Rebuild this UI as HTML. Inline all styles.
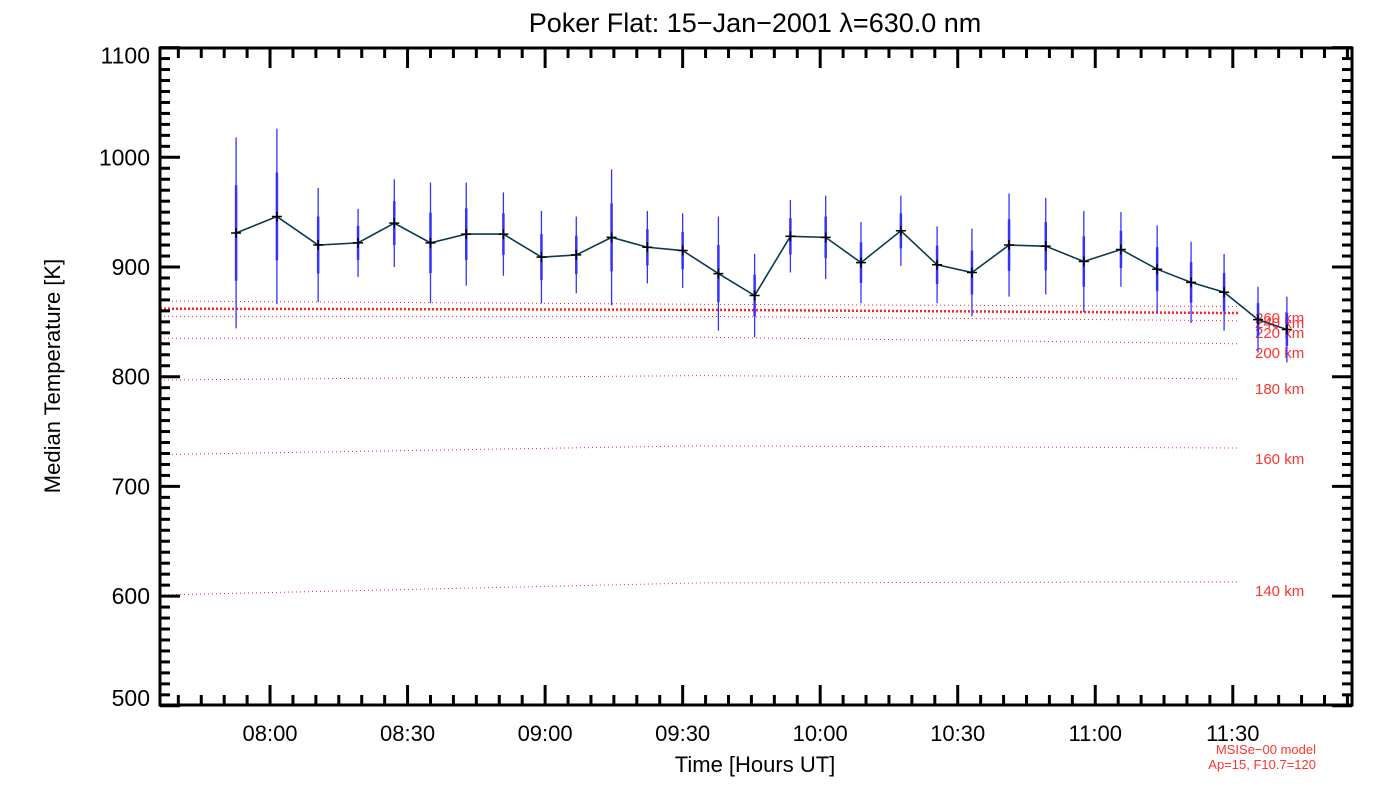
<!DOCTYPE html>
<html><head><meta charset="utf-8"><style>
body{margin:0;background:#fff;}
svg{display:block;font-family:"Liberation Sans",sans-serif;}
</style></head><body>
<svg id="chart" width="1400" height="800" viewBox="0 0 1400 800">
<text x="755" y="32" font-size="27" text-anchor="middle" fill="#000">Poker Flat: 15−Jan−2001 λ=630.0 nm</text>
<text transform="translate(60,376) rotate(-90)" font-size="22" text-anchor="middle" fill="#000">Median Temperature [K]</text>
<text x="755" y="772" font-size="22" text-anchor="middle" fill="#000">Time [Hours UT]</text>
<text x="1316" y="754" font-size="13" text-anchor="end" fill="#f33">MSISe−00 model</text>
<text x="1316" y="769" font-size="13" text-anchor="end" fill="#f33">Ap=15, F10.7=120</text>
<g id="grid"></g>
<g id="axes"></g>
</svg>
<script>
const times=[472.6,481.5,490.5,499.2,507.1,515.0,522.8,530.9,539.2,546.8,554.5,562.3,570.0,577.8,585.7,593.5,601.2,608.9,617.6,625.5,633.1,641.2,649.2,657.5,665.6,673.5,680.9,688.1,695.5,701.8];
const temps=[931,946,920,922,940,922,930,930,909,911,927,918,915,894,874,928,927,904,933,902,895,920,919,905,916,898,886,877,852,843];
const errs=[87,80,52,31,40,55,47,38,42,35,62,33,34,52,38,33,38,37,32,35,40,47,44,46,34,40,37,35,30,30];
const altitudes=["140 km","160 km","180 km","200 km","220 km","240 km","260 km"];
const modelStart=[601,729,797,835,855,862,869];
const modelMid=[612,737,801,836,855,861,866];
const modelEnd=[613,735,798,830,851,858,864];
const labelY=[591,459,389,353,333,323,318];
const yTicks=[500,600,700,800,900,1000,1100];
const xTickLabels=["08:00","08:30","09:00","09:30","10:00","10:30","11:00","11:30"];
const xTickMins=[480,510,540,570,600,630,660,690];

const X0=160,X1=1352,Y0=48,Y1=705,TMIN=456,TMAX=716;
const xs=t=>X0+(t-TMIN)/(TMAX-TMIN)*(X1-X0);
const ys=v=>267-(v-900)*1.097;
const NS="http://www.w3.org/2000/svg";
const svg=document.getElementById('chart');
const grid=document.getElementById('grid');
const axes=document.getElementById('axes');
function mk(tag,attrs,parent){const e=document.createElementNS(NS,tag);for(const k in attrs)e.setAttribute(k,attrs[k]);parent.appendChild(e);return e;}

altitudes.forEach((a,i)=>{
  const tm=TMIN, te=TMIN+(1240-X0)/(X1-X0)*(TMAX-TMIN);
  const mid=(tm+te)/2;
  const p=mk('polyline',{points:`${xs(tm)},${ys(modelStart[i])} ${xs(mid)},${ys(modelMid[i])} ${xs(te)},${ys(modelEnd[i])}`,fill:'none',stroke:'#f22','stroke-width':a==="240 km"?2.5:1,'stroke-dasharray':a==="240 km"?'2,2':'1,3'},grid);
  
  
  const t=mk('text',{x:1255,y:labelY[i]+5,'font-size':15,fill:'#f33'},grid);
  t.textContent=a;
  
  
});

times.forEach((t,i)=>{
  const x=xs(t);
  const o=mk('line',{x1:x,x2:x,y1:ys(temps[i]+errs[i]),y2:ys(temps[i]-errs[i]),stroke:'#33f','stroke-width':1.3},grid);
  
  
  const n=mk('line',{x1:x,x2:x,y1:ys(temps[i]+errs[i]/2),y2:ys(temps[i]-errs[i]/2),stroke:'#33f','stroke-width':2.5},grid);
  
  
});
const line=mk('polyline',{points:times.map((t,i)=>xs(t)+','+ys(temps[i])).join(' '),fill:'none',stroke:'#0a3a50','stroke-width':1.6},grid);


times.forEach((t,i)=>{
  const x=xs(t),y=ys(temps[i]);
  const m=mk('path',{d:`M${x-5},${y}H${x+5}M${x},${y-5}V${y+5}`,stroke:'#000','stroke-width':1.5},grid);
  
  
});

const fr=mk('rect',{x:X0,y:Y0,width:X1-X0,height:Y1-Y0,fill:'none',stroke:'#000','stroke-width':3},axes);


for(let v=500;v<=1100;v+=10){
  const y=ys(v);if(y<Y0-1||y>Y1+1)continue;
  const L=(v%100===0)?20:10;
  mk('line',{x1:X0,x2:X0+L,y1:y,y2:y,stroke:'#000','stroke-width':3},axes);
  mk('line',{x1:X1,x2:X1-L,y1:y,y2:y,stroke:'#000','stroke-width':3},axes);
}
yTicks.forEach(v=>{
  let off=8; if(v===1100) off=16; if(v===500) off=0;
  const t=mk('text',{x:150,y:ys(v)+off,'font-size':23,'text-anchor':'end',fill:'#000'},axes);
  t.textContent=v;
  
  
});
for(let m=460;m<=TMAX;m+=5){
  const x=xs(m);
  const L=(m%30===0)?20:10;
  mk('line',{x1:x,x2:x,y1:Y1,y2:Y1-L,stroke:'#000','stroke-width':3},axes);
  mk('line',{x1:x,x2:x,y1:Y0,y2:Y0+L,stroke:'#000','stroke-width':3},axes);
}
xTickLabels.forEach((l,i)=>{
  const t=mk('text',{x:xs(xTickMins[i]),y:741,'font-size':22,'text-anchor':'middle',fill:'#000'},axes);
  t.textContent=l;
  
  
});
</script>
</body></html>
